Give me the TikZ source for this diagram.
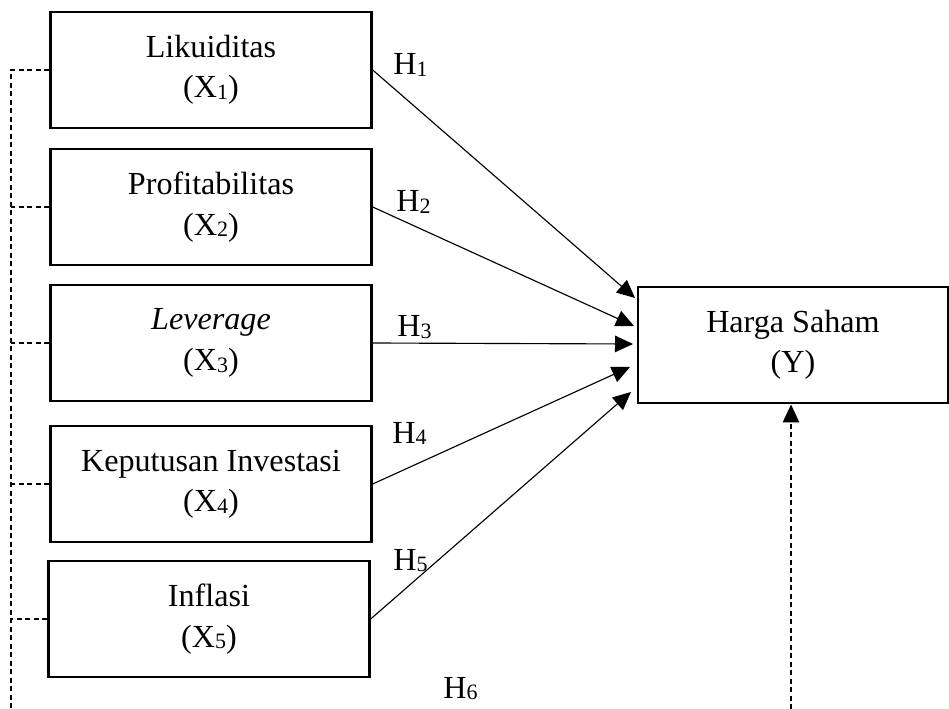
\documentclass[tikz,border=0pt]{standalone}
\usepackage{fontspec}
\setmainfont{Liberation Serif}
\usetikzlibrary{arrows.meta}
\newcommand{\idx}[1]{\raisebox{-1pt}{\fontsize{12.5}{12.5}\selectfont #1}}
\tikzset{
	var/.style={draw, line width=1.4pt, minimum width=6.42cm, minimum height=2.33cm,
		align=center, inner sep=0pt, font=\fontsize{18.3}{23}\selectfont},
	hyp/.style={anchor=base west, inner sep=0pt, font=\fontsize{18.3}{22.5}\selectfont},
	link/.style={-{Triangle[length=0.36cm,width=0.33cm]}, line width=0.65pt},
	ctrl/.style={dash pattern=on 0.1cm off 0.07cm, line width=0.65pt}
}
\begin{document}
\begin{tikzpicture}[x=0.02cm,y=-0.02cm]
	\useasboundingbox (0,0) rectangle (949,709);
	\node[var] (x1) at (211,70) {Likuiditas\\(X\idx{1})};
	\node[var] (x2) at (211,207) {Profitabilitas\\(X\idx{2})};
	\node[var] (x3) at (211,343) {\textit{Leverage}\\(X\idx{3})};
	\node[var] (x4) at (211,484) {Keputusan Investasi\\(X\idx{4})};
	\node[var] (x5) at (209,619) {Inflasi\\(X\idx{5})};
	\node[var, minimum width=6.2cm] (y) at (793,345) {Harga Saham\\(Y)};
	\coordinate (t1) at (635,298);
	\coordinate (t2) at (634,326);
	\coordinate (t3) at (633,344);
	\coordinate (t4) at (630,367);
	\coordinate (t5) at (631,392);
	\draw[link] (x1.east) -- (t1);
	\draw[link] (x2.east) -- (t2);
	\draw[link] (x3.east) -- (t3);
	\draw[link] (x4.east) -- (t4);
	\draw[link] (x5.east) -- (t5);
	\node[hyp] (h1) at (393,75) {H\idx{1}};
	\node[hyp] (h2) at (396,212) {H\idx{2}};
	\node[hyp] (h3) at (397,337) {H\idx{3}};
	\node[hyp] (h4) at (392,443) {H\idx{4}};
	\node[hyp] (h5) at (393,570) {H\idx{5}};
	\node[hyp] (h6) at (443,698) {H\idx{6}};
	% moderating lines
	\coordinate (lbot) at (11,709);
	\coordinate (rbot) at (791,709);
	\draw[ctrl] (x1.west) -| (lbot);
	\foreach \v in {x2,x3,x4,x5}
		\draw[ctrl] (\v.west) -- (\v.west -| lbot);
	\draw[ctrl, link] (rbot) -- (y.south -| rbot);
\end{tikzpicture}
\end{document}
